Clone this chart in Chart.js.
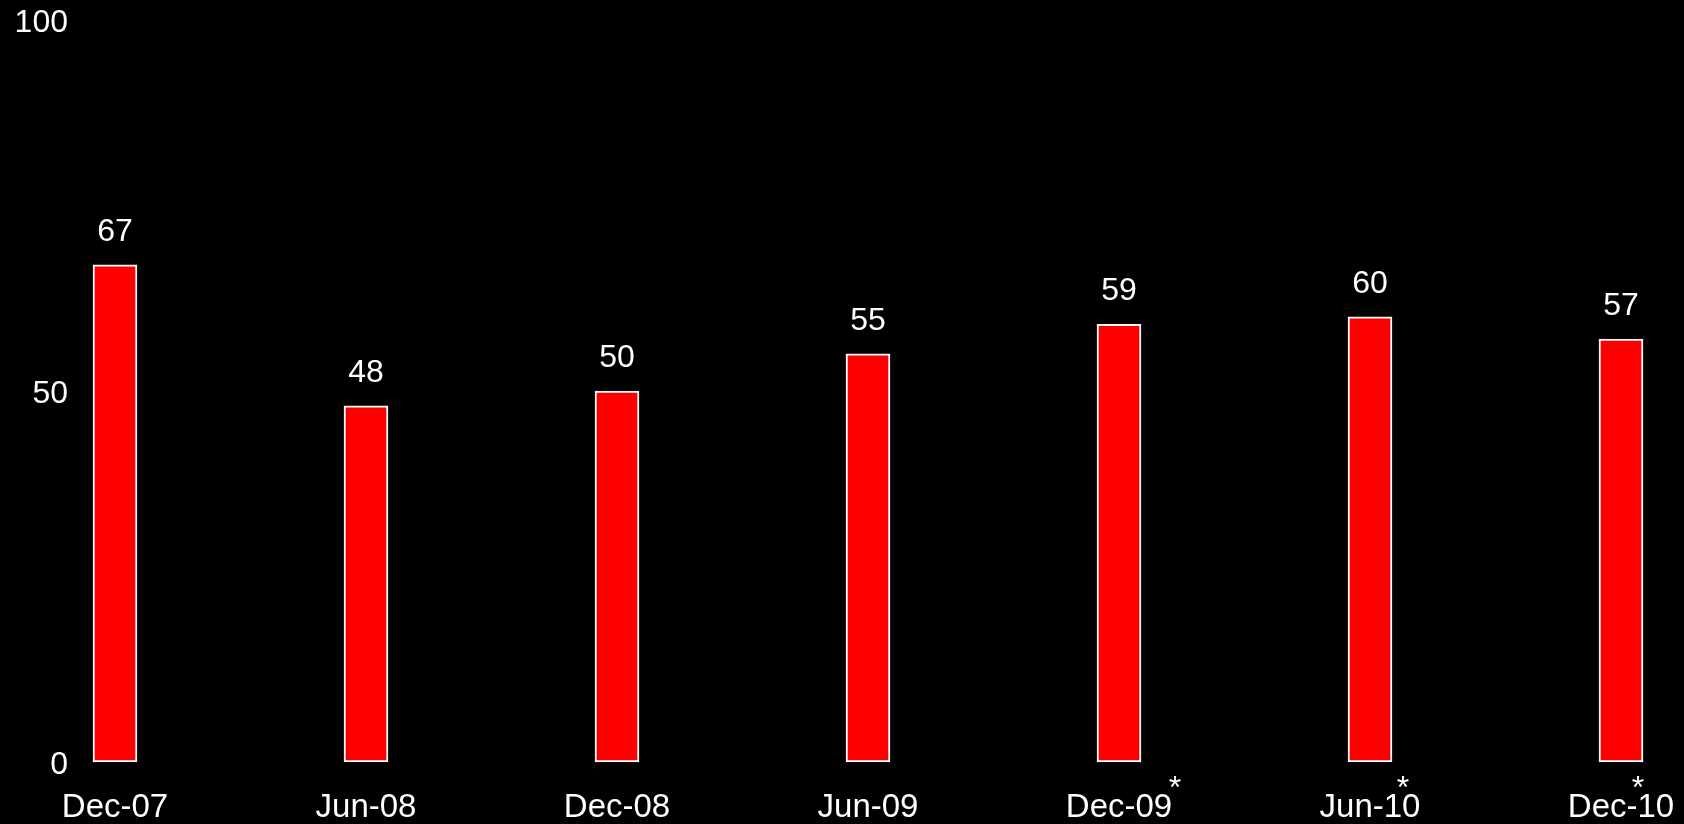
<!DOCTYPE html>
<html>
  <head>
    <meta charset="UTF-8">
    <style>
      html, body { margin: 0; padding: 0; background: #000; overflow: hidden; }
      canvas { display: block; }
    </style>
  </head>
  <body>
    <canvas id="chart" width="1684" height="824"></canvas>

    <script src="https://cdn.jsdelivr.net/npm/chart.js@4.4.0/dist/chart.umd.min.js"></script>
    <script type="text/javascript">

      const labels = ['Dec-07', 'Jun-08', 'Dec-08', 'Jun-09', 'Dec-09', 'Jun-10', 'Dec-10'];
      const values = [67, 48, 50, 55, 59, 60, 57];
      const notes = ['', '', '', '', '*', '*', '*'];
      const yTicks = [0, 50, 100];

      const FONT = '"Liberation Sans", Arial, sans-serif';

      // value above each bar
      const valueLabels = {
        id: 'valueLabels',
        afterDatasetsDraw(chart) {
          const ctx = chart.ctx;
          const meta = chart.getDatasetMeta(0);
          ctx.save();
          ctx.fillStyle = '#fff';
          ctx.font = '32px ' + FONT;
          ctx.textAlign = 'center';
          ctx.textBaseline = 'alphabetic';
          meta.data.forEach((bar, i) => {
            ctx.fillText(String(values[i]), bar.x, bar.y - 24);
          });
          ctx.restore();
        }
      };

      // footnote asterisks next to some x labels
      const noteDx = [0, 0, 0, 0, 56, 33, 17];
      const footnotes = {
        id: 'footnotes',
        afterDraw(chart) {
          const ctx = chart.ctx;
          const x = chart.scales.x;
          ctx.save();
          ctx.fillStyle = '#fff';
          ctx.font = '32px ' + FONT;
          ctx.textAlign = 'center';
          ctx.textBaseline = 'alphabetic';
          notes.forEach((n, i) => {
            if (!n) return;
            ctx.fillText(n, x.getPixelForValue(i) + noteDx[i], chart.chartArea.bottom + 36);
          });
          ctx.restore();
        }
      };

      new Chart(document.getElementById('chart'), {
        type: 'bar',
        data: {
          labels: labels,
          datasets: [{
            data: values,
            backgroundColor: '#ff0000',
            borderColor: '#ffffff',
            borderWidth: 2,
            borderSkipped: false,
            barThickness: 44,
            clip: false
          }]
        },
        options: {
          responsive: false,
          animation: false,
          layout: { autoPadding: false, padding: { left: 15, right: 63, top: 20, bottom: 0 } },
          plugins: {
            legend: { display: false },
            tooltip: { enabled: false }
          },
          scales: {
            x: {
              offset: false,
              grid: { display: false, drawTicks: false },
              border: { display: false },
              afterFit: s => {
                s.height = 62;
                s.paddingLeft = 0;
                s.paddingRight = 0;
              },
              ticks: {
                color: '#fff',
                font: { family: FONT, size: 33, lineHeight: 1 },
                padding: 29,
                maxRotation: 0,
                autoSkip: false
              }
            },
            y: {
              min: 0,
              max: 100,
              grid: { display: false, drawTicks: false },
              border: { display: false },
              afterFit: s => {
                s.width = 100;
                s.paddingTop = 0;
                s.paddingBottom = 0;
              },
              afterBuildTicks: s => { s.ticks = yTicks.map(v => ({ value: v })); },
              ticks: {
                color: '#fff',
                font: { family: FONT, size: 32, lineHeight: 1 },
                padding: 47,
                labelOffset: 3
              }
            }
          }
        },
        plugins: [valueLabels, footnotes]
      });

    </script>
  </body>
</html>
